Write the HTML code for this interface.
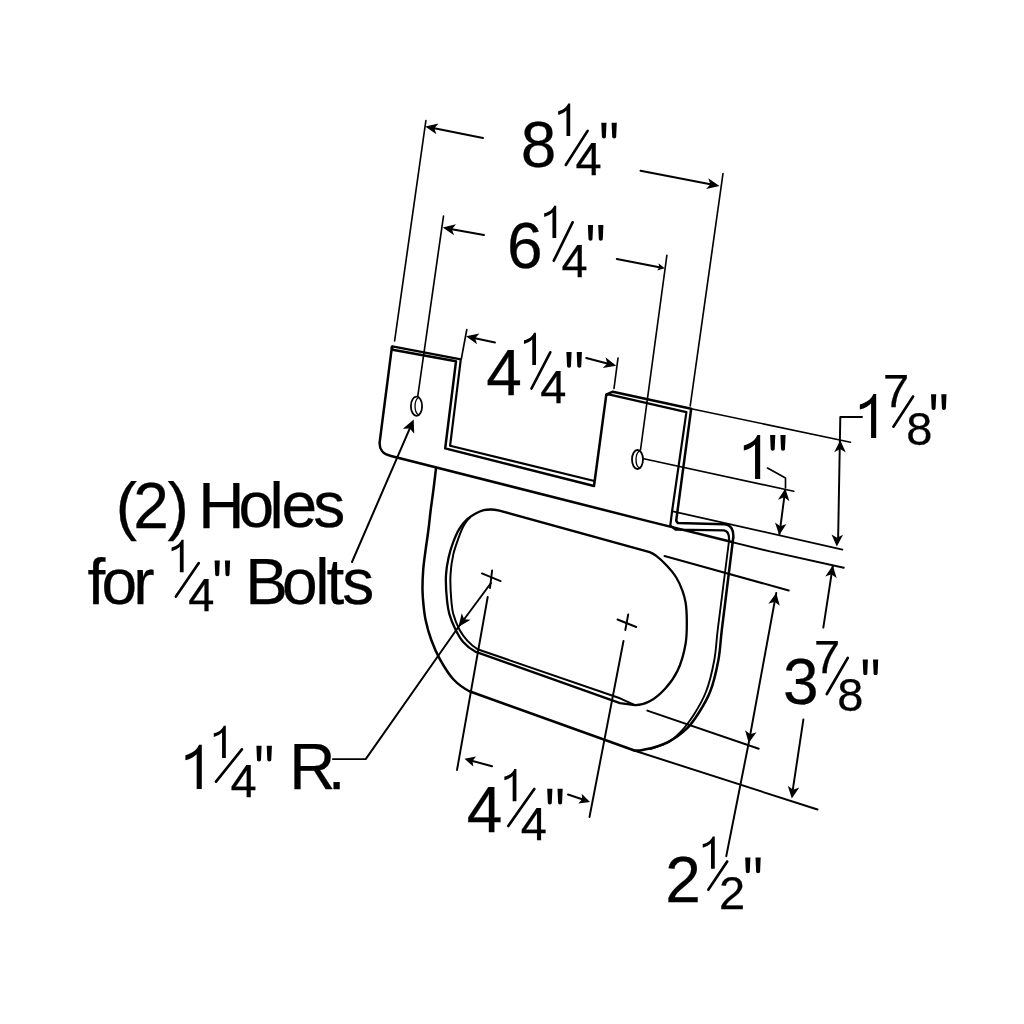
<!DOCTYPE html>
<html><head><meta charset="utf-8"><style>
html,body{margin:0;padding:0;background:#fff;}
svg{display:block;will-change:transform;}
path,ellipse{fill:none;stroke:#000;stroke-linecap:round;stroke-linejoin:round;}
path.fl{fill:#000;stroke:none;}
text{font-family:"Liberation Sans",sans-serif;fill:#000;stroke:#000;stroke-width:0.25px;}
</style></head><body>
<svg width="1024" height="1024" viewBox="0 0 1024 1024">
<rect width="1024" height="1024" fill="#fff"/>
<text x="520.81" y="166.6" font-size="64">8</text>
<path class="fl" d="M566.46 135.9 L570.22 135.9 L570.22 103.56 L568.15 103.56 C567.21 106.06 564.53 109.58 558.18 111.23 L558.18 114.94 C561.94 114.05 564.76 112.4 566.46 110.52 Z"/>
<path d="M565.8 165 L587.6 130.9" stroke-width="2.65"/>
<text x="575.38" y="174.5" font-size="47">4</text>
<path class="fl" d="M601.3 122.7 L606.5 122.7 L605.9 136.5 C605.8 138.1 605.1 138.4 603.9 138.4 C602.7 138.4 602 138.1 601.9 136.5 Z"/>
<path class="fl" d="M611.6 122.7 L616.8 122.7 L616.2 136.5 C616.1 138.1 615.4 138.4 614.2 138.4 C613 138.4 612.3 138.1 612.2 136.5 Z"/>
<text x="506.98" y="268.1" font-size="64">6</text>
<path class="fl" d="M552.46 238 L556.22 238 L556.22 205.66 L554.15 205.66 C553.21 208.16 550.53 211.68 544.18 213.32 L544.18 217.04 C547.94 216.15 550.76 214.5 552.46 212.62 Z"/>
<path d="M553.8 260.7 L572.6 222.3" stroke-width="2.65"/>
<text x="561.48" y="277" font-size="47">4</text>
<path class="fl" d="M587.9 225 L593.1 225 L592.5 238.8 C592.4 240.4 591.7 240.7 590.5 240.7 C589.3 240.7 588.6 240.4 588.5 238.8 Z"/>
<path class="fl" d="M598.2 225 L603.4 225 L602.8 238.8 C602.7 240.4 602 240.7 600.8 240.7 C599.6 240.7 598.9 240.4 598.8 238.8 Z"/>
<text x="486.15" y="395" font-size="64">4</text>
<path class="fl" d="M532.26 365 L536.02 365 L536.02 332.66 L533.95 332.66 C533.01 335.15 530.33 338.68 523.98 340.32 L523.98 344.04 C527.74 343.14 530.56 341.5 532.26 339.62 Z"/>
<path d="M531.5 388.5 L550.3 352.3" stroke-width="2.65"/>
<text x="540.33" y="402.5" font-size="47">4</text>
<path class="fl" d="M566.4 352 L571.6 352 L571 365.8 C570.9 367.4 570.2 367.7 569 367.7 C567.8 367.7 567.1 367.4 567 365.8 Z"/>
<path class="fl" d="M576.7 352 L581.9 352 L581.3 365.8 C581.2 367.4 580.5 367.7 579.3 367.7 C578.1 367.7 577.4 367.4 577.3 365.8 Z"/>
<text x="466.8" y="832" font-size="64">4</text>
<path class="fl" d="M512.66 801.25 L516.42 801.25 L516.42 768.91 L514.35 768.91 C513.41 771.4 510.73 774.93 504.38 776.58 L504.38 780.29 C508.14 779.39 510.96 777.75 512.66 775.87 Z"/>
<path d="M508.3 826 L534.3 789" stroke-width="2.65"/>
<text x="520.83" y="839.5" font-size="47">4</text>
<path class="fl" d="M547.2 788.75 L552.4 788.75 L551.8 802.55 C551.7 804.15 551 804.45 549.8 804.45 C548.6 804.45 547.9 804.15 547.8 802.55 Z"/>
<path class="fl" d="M557.5 788.75 L562.7 788.75 L562.1 802.55 C562 804.15 561.3 804.45 560.1 804.45 C558.9 804.45 558.2 804.15 558.1 802.55 Z"/>
<path class="fl" d="M755.07 479 L760.19 479 L760.19 434.97 L757.38 434.97 C756.1 438.36 752.45 443.16 743.81 445.4 L743.81 450.46 C748.93 449.24 752.77 447 755.07 444.44 Z"/>
<path class="fl" d="M770.1 435 L775.3 435 L774.7 448.8 C774.6 450.4 773.9 450.7 772.7 450.7 C771.5 450.7 770.8 450.4 770.7 448.8 Z"/>
<path class="fl" d="M780.4 435 L785.6 435 L785 448.8 C784.9 450.4 784.2 450.7 783 450.7 C781.8 450.7 781.1 450.4 781 448.8 Z"/>
<path class="fl" d="M871.07 438 L876.19 438 L876.19 393.97 L873.38 393.97 C872.1 397.36 868.45 402.16 859.81 404.4 L859.81 409.46 C864.93 408.24 868.77 406 871.07 403.44 Z"/>
<text x="882.91" y="407.2" font-size="47">7</text>
<path d="M893.4 426.7 L913.1 396.5" stroke-width="2.65"/>
<text x="906.18" y="445.3" font-size="47">8</text>
<path class="fl" d="M931 394.2 L936.2 394.2 L935.6 408 C935.5 409.6 934.8 409.9 933.6 409.9 C932.4 409.9 931.7 409.6 931.6 408 Z"/>
<path class="fl" d="M941.3 394.2 L946.5 394.2 L945.9 408 C945.8 409.6 945.1 409.9 943.9 409.9 C942.7 409.9 942 409.6 941.9 408 Z"/>
<text x="782.9" y="703.8" font-size="64">3</text>
<text x="814.01" y="672.7" font-size="47">7</text>
<path d="M826.8 694 L847.8 657.8" stroke-width="2.65"/>
<text x="837.33" y="711.2" font-size="47">8</text>
<path class="fl" d="M862.7 659.4 L867.9 659.4 L867.3 673.2 C867.2 674.8 866.5 675.1 865.3 675.1 C864.1 675.1 863.4 674.8 863.3 673.2 Z"/>
<path class="fl" d="M873 659.4 L878.2 659.4 L877.6 673.2 C877.5 674.8 876.8 675.1 875.6 675.1 C874.4 675.1 873.7 674.8 873.6 673.2 Z"/>
<text x="665.21" y="902" font-size="64">2</text>
<path class="fl" d="M711.01 868.75 L714.77 868.75 L714.77 836.41 L712.7 836.41 C711.76 838.9 709.08 842.43 702.73 844.08 L702.73 847.79 C706.49 846.89 709.31 845.25 711.01 843.37 Z"/>
<path d="M708.3 889.7 L727.2 861.5" stroke-width="2.65"/>
<text x="719.03" y="908.75" font-size="47">2</text>
<path class="fl" d="M745.2 857.5 L750.4 857.5 L749.8 871.3 C749.7 872.9 749 873.2 747.8 873.2 C746.6 873.2 745.9 872.9 745.8 871.3 Z"/>
<path class="fl" d="M755.5 857.5 L760.7 857.5 L760.1 871.3 C760 872.9 759.3 873.2 758.1 873.2 C756.9 873.2 756.2 872.9 756.1 871.3 Z"/>
<path class="fl" d="M196.67 788.9 L201.79 788.9 L201.79 744.87 L198.98 744.87 C197.7 748.26 194.05 753.06 185.41 755.3 L185.41 760.36 C190.53 759.14 194.37 756.9 196.67 754.34 Z"/>
<path class="fl" d="M222.06 758 L225.82 758 L225.82 725.66 L223.75 725.66 C222.81 728.15 220.13 731.68 213.78 733.33 L213.78 737.04 C217.54 736.14 220.36 734.5 222.06 732.62 Z"/>
<path d="M216 781.6 L241.9 749.4" stroke-width="2.65"/>
<text x="230.47" y="796.6" font-size="47">4</text>
<path class="fl" d="M256.4 745.8 L261.6 745.8 L261 759.6 C260.9 761.2 260.2 761.5 259 761.5 C257.8 761.5 257.1 761.2 257 759.6 Z"/>
<path class="fl" d="M266.7 745.8 L271.9 745.8 L271.3 759.6 C271.2 761.2 270.5 761.5 269.3 761.5 C268.1 761.5 267.4 761.2 267.3 759.6 Z"/>
<text x="289.28" y="788.9" font-size="64">R</text>
<text x="327.7" y="788.9" font-size="64">.</text>
<text x="115.65" y="527.7" font-size="64">(</text>
<text x="133.21" y="527.7" font-size="64">2</text>
<text x="167.54" y="527.7" font-size="64">)</text>
<text x="198.36" y="527.7" font-size="64">H</text>
<text x="238.61" y="527.06" font-size="64">o</text>
<text x="269.5" y="527.7" font-size="64">l</text>
<text x="281.47" y="527.06" font-size="64">e</text>
<text x="313.16" y="527.06" font-size="64">s</text>
<text x="87.52" y="604.2" font-size="64">f</text>
<text x="101.46" y="603.56" font-size="64">o</text>
<text x="133.28" y="604.2" font-size="64">r</text>
<path class="fl" d="M179.86 572.2 L183.62 572.2 L183.62 539.86 L181.55 539.86 C180.61 542.36 177.93 545.88 171.58 547.53 L171.58 551.24 C175.34 550.35 178.16 548.7 179.86 546.82 Z"/>
<path d="M175.9 596.6 L198.8 563.1" stroke-width="2.65"/>
<text x="188.17" y="611.25" font-size="47">4</text>
<path class="fl" d="M214.6 560.5 L219.8 560.5 L219.2 574.3 C219.1 575.9 218.4 576.2 217.2 576.2 C216 576.2 215.3 575.9 215.2 574.3 Z"/>
<path class="fl" d="M224.9 560.5 L230.1 560.5 L229.5 574.3 C229.4 575.9 228.7 576.2 227.5 576.2 C226.3 576.2 225.6 575.9 225.5 574.3 Z"/>
<text x="245.33" y="604.2" font-size="64">B</text>
<text x="282.01" y="603.56" font-size="64">o</text>
<text x="315.15" y="604.2" font-size="64">l</text>
<text x="326.55" y="603.7" font-size="64">t</text>
<text x="342.26" y="603.56" font-size="64">s</text>
<path d="M425.9 120.5 L394.6 341" stroke-width="1.65"/>
<path d="M723 173.5 L690.2 406" stroke-width="1.65"/>
<path d="M443.5 216 L417.8 396" stroke-width="1.65"/>
<path d="M666.9 255.25 L640.5 450" stroke-width="1.65"/>
<path d="M466.8 329.5 L461.3 359" stroke-width="1.65"/>
<path d="M618 358 L614 388.5" stroke-width="1.65"/>
<path d="M483 138.1 L434.32 128.25" stroke-width="2"/>
<path class="fl" d="M425.2 126.4 L438.54 123.49 L434.32 128.25 L436.36 134.27 Z"/>
<path d="M640.5 170.75 L710.37 184.24" stroke-width="2"/>
<path class="fl" d="M719.5 186 L706.18 189.03 L710.37 184.24 L708.27 178.23 Z"/>
<path d="M484 235 L451.9 229.16" stroke-width="2"/>
<path class="fl" d="M442.75 227.5 L456.03 224.32 L451.9 229.16 L454.06 235.15 Z"/>
<path d="M616.8 259 L659.3 267.16" stroke-width="2"/>
<path class="fl" d="M664.7 268.2 L657.15 270.42 L659.3 267.16 L658.5 263.34 Z"/>
<path d="M495 342.5 L475.09 338.21" stroke-width="2"/>
<path class="fl" d="M466 336.25 L479.38 333.51 L475.09 338.21 L477.06 344.26 Z"/>
<path d="M586.25 358 L607.25 363.42" stroke-width="2"/>
<path class="fl" d="M616.25 365.75 L602.77 367.95 L607.25 363.42 L605.52 357.3 Z"/>
<path d="M352 562 L409.81 428.39" stroke-width="2"/>
<path class="fl" d="M413.7 419.4 L414.23 433.79 L409.81 428.39 L402.85 428.87 Z"/>
<path d="M643.75 458.75 L793.75 491.25" stroke-width="1.65"/>
<path d="M691.2 408.7 L850.5 442.2" stroke-width="1.65"/>
<path d="M671.7 511.1 L842.5 549.6" stroke-width="1.65"/>
<path d="M785.2 490 L779.5 533.75" stroke-width="1.95"/>
<path class="fl" d="M785.3 488.5 L789.46 501.16 L784.14 497.22 L777.96 499.63 Z"/>
<path class="fl" d="M779.2 535.1 L774.98 522.46 L780.32 526.37 L786.48 523.94 Z"/>
<path d="M767.5 468 L785.5 478 L785.5 488" stroke-width="1.65"/>
<path d="M862 417 L840.3 417 L838.1 540" stroke-width="1.95"/>
<path class="fl" d="M840.3 440.3 L845.8 452.44 L840.08 449.1 L834.2 452.15 Z"/>
<path class="fl" d="M836.8 546.6 L831.49 534.38 L837.15 537.81 L843.08 534.84 Z"/>
<path d="M832.8 566 L823.3 627.6" stroke-width="1.95"/>
<path d="M803.4 719.4 L792 795" stroke-width="1.95"/>
<path class="fl" d="M832.8 565.5 L836.72 578.24 L831.47 574.2 L825.25 576.48 Z"/>
<path class="fl" d="M791.8 798.5 L787.8 785.79 L793.08 789.79 L799.28 787.47 Z"/>
<path d="M632.5 750 L817.5 809.5" stroke-width="1.95"/>
<path d="M664.5 556 L788.75 590.5" stroke-width="1.95"/>
<path d="M647.3 710.6 L758.75 748.75" stroke-width="1.95"/>
<path d="M776.25 593 L748.7 743 L726.25 856.25" stroke-width="1.95"/>
<path class="fl" d="M776.25 593 L779.75 605.86 L774.63 601.65 L768.35 603.73 Z"/>
<path class="fl" d="M748.7 743 L745.11 730.16 L750.25 734.34 L756.53 732.21 Z"/>
<path d="M487.7 597 L457 770" stroke-width="1.95"/>
<path d="M623.5 641 L589.5 817" stroke-width="1.95"/>
<path d="M492 766.25 L472.51 760.93" stroke-width="2"/>
<path class="fl" d="M464.5 758.75 L476 756.5 L472.51 760.93 L473.26 766.53 Z"/>
<path d="M568 794.5 L582.14 799.32" stroke-width="2"/>
<path class="fl" d="M590 802 L578.38 803.53 L582.14 799.32 L581.74 793.69 Z"/>
<path d="M481.9 573.4 L500.6 581.1" stroke-width="1.95"/>
<path d="M492.1 570.5 L490 588" stroke-width="1.95"/>
<path d="M617.5 619.5 L636.25 627" stroke-width="1.95"/>
<path d="M628.2 614.5 L625.3 630" stroke-width="1.95"/>
<path d="M491 583 L458.4 627 L365.7 759.1 L332.9 759.1" stroke-width="1.95"/>
<path class="fl" d="M458.4 627 L461.72 613.28 L464.23 619.13 L470.56 619.83 Z"/>
<path d="M392.3 346.4 L460.8 359.3 L450.1 445.7 L593.4 480.8" stroke-width="2.2"/>
<path d="M391.9 347.1 L392.6 349.7 L456 361.3 L445.2 448.4 L594 486 L606.3 394.6 L612.8 391.7 L691.2 408.7 L676.2 520.7 L677.8 522.9 L724 524.2 C731 524.5 734 530 733.2 538" stroke-width="2.5"/>
<path d="M606.3 394.6 L609.8 394.6 L686.4 412.1 L672.1 511.1 L670.3 525.5 L675.5 529.6 L724 530.4 C728 531 729.5 534 729 541" stroke-width="2.2"/>
<path d="M391.9 347.1 L379.7 441.9 C379 449 383 454.5 391 456 L396.9 457.5 L650 521.6 L733 542.3" stroke-width="2.5"/>
<path d="M733 542.3 L770 551.4 L843.8 567.7" stroke-width="1.9"/>
<path d="M436.1 467.9 C435.24 474.28 434.32 482.82 433.4 490 C432.52 496.84 431.53 503.33 430.7 510 C429.87 516.66 429.25 523.34 428.4 530 C427.55 536.67 426.47 543.33 425.6 550 C424.73 556.66 423.72 563.32 423.2 570 C422.69 576.66 422.4 583.81 422.5 590 C422.58 595.36 422.98 600.01 423.5 605 C424.02 610.01 424.48 614.68 425.6 620 C426.92 626.23 428.92 633.47 431.3 640 C433.71 646.6 436.42 652.99 440 659.4 C443.87 666.34 448.69 674.51 454 680 C458.64 684.8 461.05 686.82 469.4 691.25 L633.7 750.3 C639.35 751.1 640.35 750.41 644.6 749.6 C650.95 748.39 660.68 745.68 667.8 742.1 C674.8 738.58 681.64 733.64 687 728.4 C692 723.52 695.53 717.93 699.3 712 C703.31 705.69 707.17 699.26 710.2 691.5 C713.78 682.31 716.46 670.44 718.4 660 C720.27 649.94 720.29 642.73 721.8 630 L733.2 538" stroke-width="2.5"/>
<path d="M729 541 L717.7 630 C716.18 642.65 716.17 649.94 714.3 660 C712.36 670.44 709.8 682 706.1 691.5 C702.78 700.04 698.34 707.65 693.8 714.7 C689.61 721.22 684.81 727.63 680.1 732.5 C676.16 736.57 672.7 739.82 668 742.5 C662.81 745.46 656 746.83 650 749" stroke-width="1.9"/>
<ellipse cx="416.5" cy="406.2" rx="5.6" ry="9.6" stroke-width="1.8"/>
<path d="M418.8 397.3 C414 400 413.5 412 418.8 415.2" stroke-width="1.3"/>
<ellipse cx="637.5" cy="459.5" rx="5.5" ry="9.5" stroke-width="1.8"/>
<path d="M639.8 450.8 C635 453.5 634.5 465.5 639.8 468.3" stroke-width="1.3"/>
<path d="M499.4 510.6 L649.7 552.1 C653.29 553.58 653.65 553.95 655.9 555.6 C659.17 557.99 663.51 562.15 666.9 565.8 C670.29 569.45 673.64 573.31 676.25 577.5 C678.83 581.65 680.91 586.44 682.5 590.8 C683.94 594.76 684.88 598.17 685.6 602.5 C686.46 607.71 686.74 613.72 686.8 620 C686.87 627.3 687 635.61 685.6 643.7 C684.07 652.57 681.19 663.12 677.4 671 C674.1 677.86 669.81 683.69 665.1 688.8 C660.64 693.64 655.42 698.36 650.1 701.1 C645.32 703.56 642.35 705.38 635 705.2 L620 703.1 L475.2 651.6 C468.6 647.93 466.68 645.88 463.4 642.2 C460.16 638.57 457.88 634.21 455.6 629.7 C453.17 624.89 450.84 619.24 449.4 614.1 C448.07 609.35 447.56 605.39 447 600 C446.25 592.87 445.59 582.57 446 575 C446.34 568.63 447.34 563.12 448.6 557.5 C449.81 552.11 451.42 546.83 453.3 541.9 C455.08 537.22 457.02 532.51 459.5 528.6 C461.76 525.03 464.5 521.76 467.3 519.2 C469.78 516.93 472.43 515.26 475.2 513.75 C477.92 512.27 480.99 510.89 483.75 510.2 C486.17 509.59 488.34 509.47 490.8 509.5 C493.53 509.54 494.83 509.68 499.4 510.6" stroke-width="2.3"/>
<path d="M469.7 517.7 C466.82 520.19 465.25 522.96 463.4 526.25 C461.26 530.07 459.65 534.92 458 539.5 C456.27 544.29 454.51 548.98 453.3 554.4 C451.9 560.66 450.87 567.78 450.5 575 C450.09 582.91 450.68 592.87 451.3 600 C451.77 605.38 452.04 609.36 453.3 614.1 C454.67 619.25 456.99 625.1 459.5 629.7 C461.74 633.81 464.3 637.35 467.3 640.6 C470.3 643.85 472.58 646.4 477.5 649.2 L620 698.3 L635 705.2" stroke-width="2"/>
</svg></body></html>
